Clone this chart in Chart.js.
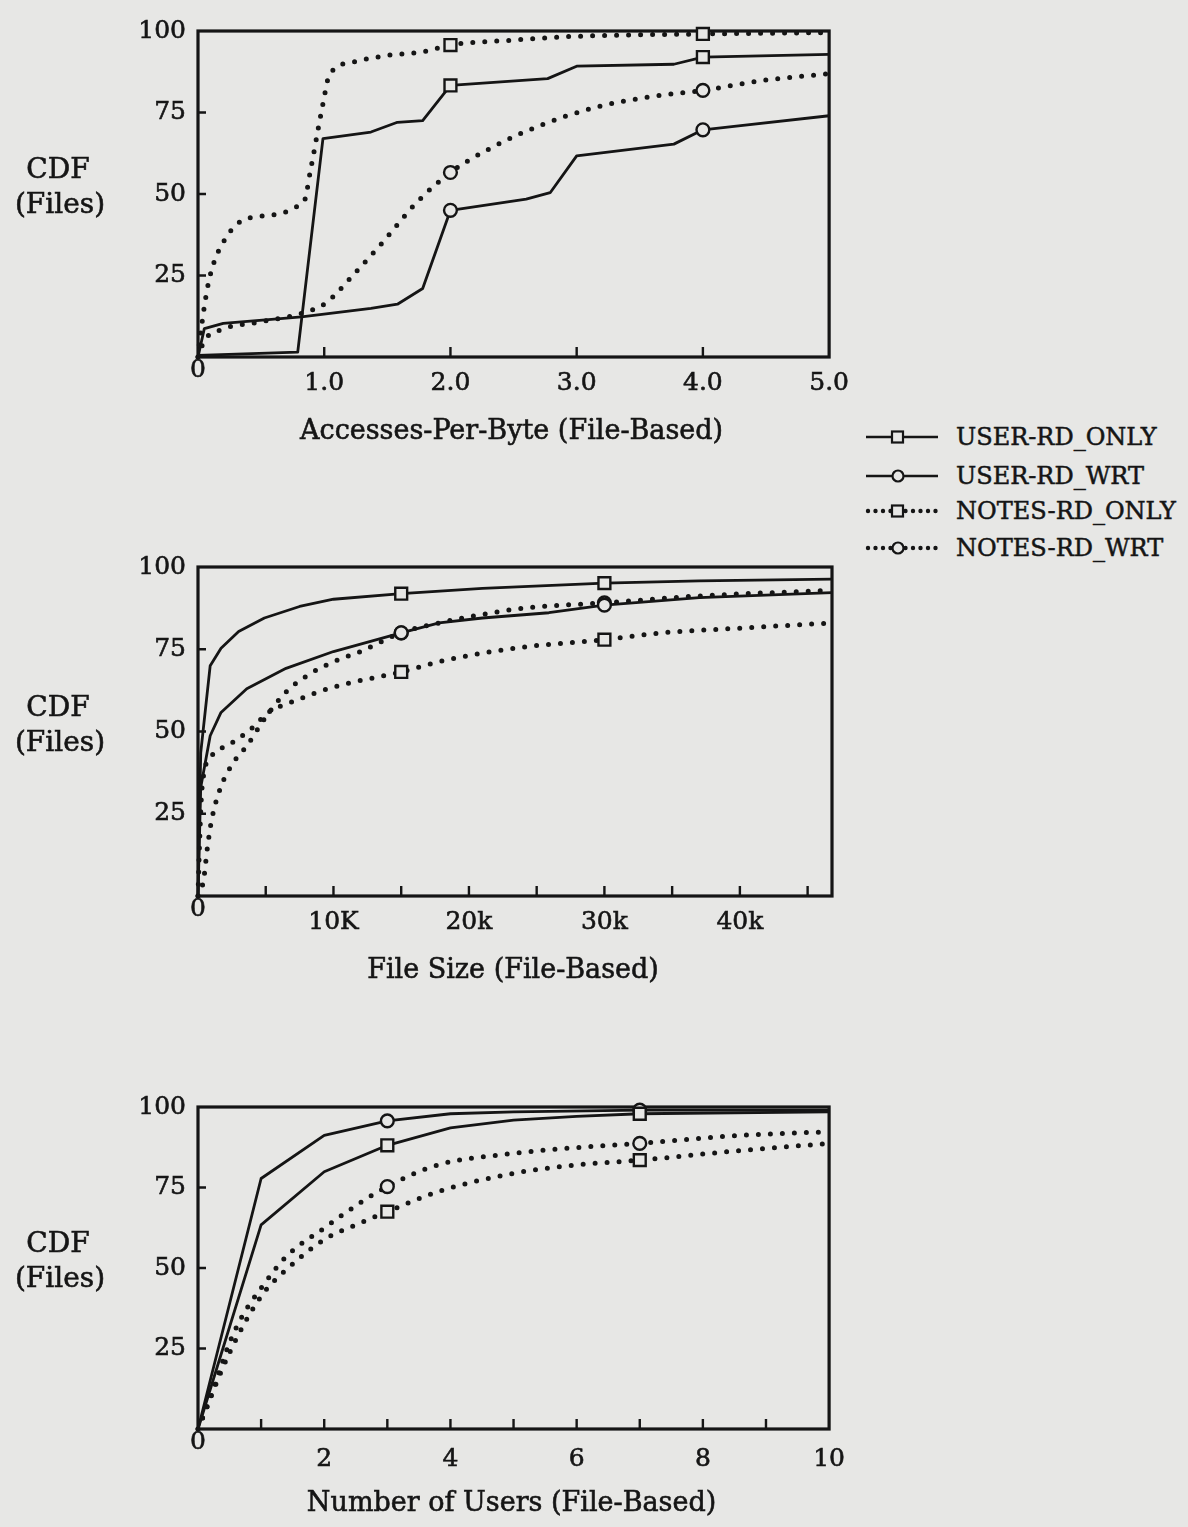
<!DOCTYPE html>
<html>
<head>
<meta charset="utf-8">
<script src="https://cdn.jsdelivr.net/npm/chart.js@4.4.0/dist/chart.umd.min.js"></script>
<style>
  html, body { margin: 0; padding: 0; background: #e7e7e5; }
  body { width: 1188px; height: 1527px; position: relative; overflow: hidden; font-family: "DejaVu Serif", serif; color: #151515; }
  canvas.c { position: absolute; left: 0; }
  #legend { position: absolute; left: 862px; top: 419px; width: 326px; height: 150px; }
  .row { position: absolute; left: 0; height: 36px; display: flex; align-items: center; white-space: nowrap; font-size: 24px; -webkit-text-stroke: 0.5px #151515; }
  .row svg { margin-right: 16px; }
</style>
</head>
<body>
<canvas id="c1" class="c" width="860" height="460" style="top:0px"></canvas>
<canvas id="c2" class="c" width="860" height="500" style="top:500px"></canvas>
<canvas id="c3" class="c" width="860" height="487" style="top:1040px"></canvas>
<div id="legend"></div>
<script>
// ---------------- DATA ----------------
const seriesNames = ['USER-RD_ONLY', 'USER-RD_WRT', 'NOTES-RD_ONLY', 'NOTES-RD_WRT'];

// Chart 1: Accesses-Per-Byte (File-Based)
const apbTickValues = [0, 1, 2, 3, 4, 5];
const apbTickLabels = ['0', '1.0', '2.0', '3.0', '4.0', '5.0'];
const apbMarkerX = [2.0, 4.0];
const apbUserRdOnlyX = [0, 0.79, 0.99, 1.37, 1.58, 1.78, 2.0, 2.77, 3.0, 3.77, 4.0, 5.0];
const apbUserRdOnlyY = [0.5, 1.5, 67, 69, 72, 72.5, 83.3, 85.4, 89.2, 89.8, 92, 92.8];
const apbUserRdWrtX = [0, 0.05, 0.2, 0.82, 1.37, 1.58, 1.78, 2.0, 2.6, 2.79, 3.0, 3.77, 4.0, 4.3, 5.0];
const apbUserRdWrtY = [0, 8.7, 10.3, 12.3, 14.9, 16.2, 21, 45, 48.4, 50.4, 61.7, 65.3, 69.7, 71, 74];
const apbNotesRdOnlyX = [0, 0.03, 0.09, 0.22, 0.41, 0.84, 0.89, 0.99, 1.04, 1.23, 1.5, 1.78, 2.0, 2.5, 2.95, 4.0, 5.0];
const apbNotesRdOnlyY = [0, 10, 24, 36.5, 42.7, 47.8, 57, 77.7, 86.4, 90.5, 92.5, 93.6, 95.7, 97.2, 98.3, 99.1, 99.5];
const apbNotesRdWrtX = [0, 0.05, 0.17, 0.5, 0.82, 1.01, 1.23, 1.47, 1.73, 2.0, 2.33, 2.71, 3.15, 3.56, 4.0, 4.49, 5.0];
const apbNotesRdWrtY = [0, 5, 8.2, 10.8, 13.4, 16.5, 25.2, 35.5, 47.3, 56.6, 64.3, 71, 76.6, 79.7, 81.8, 84.9, 86.9];

// Chart 2: File Size (File-Based), x in thousands of bytes
const fsTickValues = [0, 10, 20, 30, 40];
const fsTickLabels = ['0', '10K', '20k', '30k', '40k'];
const fsMarkerX = [15, 30];
const fsUserRdOnlyX = [0, 0.2, 0.9, 1.7, 3, 4.9, 7.5, 10, 15, 21, 30, 37, 46.8];
const fsUserRdOnlyY = [0, 43.5, 70, 75.3, 80.4, 84.5, 88, 90.2, 91.9, 93.5, 95.1, 95.8, 96.3];
const fsUserRdWrtX = [0, 0.2, 0.9, 1.7, 3.6, 6.5, 10, 15, 17.8, 21, 25.9, 30, 37, 46.8];
const fsUserRdWrtY = [0, 33, 48.7, 55.8, 63, 69.2, 74.3, 80, 83, 84.5, 86.1, 88.4, 90.7, 92.2];
const fsNotesRdOnlyX = [0, 0.13, 0.3, 1, 2.3, 3.9, 5.2, 7.2, 10, 15, 17.8, 21, 24.3, 30, 34, 40.4, 46.8];
const fsNotesRdOnlyY = [0, 18, 33, 42.5, 46, 50.7, 55.8, 59.4, 63.5, 68.1, 71.2, 73.8, 75.8, 77.9, 79.9, 81.5, 83];
const fsNotesRdWrtX = [0, 0.4, 0.7, 1, 1.7, 2.6, 3.6, 4.9, 6.5, 8.1, 10, 12, 15, 17.8, 21, 24.3, 30, 37, 46.8];
const fsNotesRdWrtY = [0, 4.6, 14.9, 23, 33.3, 40.5, 45.6, 53.8, 62, 67.1, 71.2, 74.3, 80, 83, 85.6, 87.6, 89.1, 91.2, 92.9];

// Chart 3: Number of Users (File-Based)
const nuTickValues = [0, 2, 4, 6, 8, 10];
const nuTickLabels = ['0', '2', '4', '6', '8', '10'];
const nuMarkerX = [3, 7];
const nuUserRdOnlyX = [0, 1, 2, 3, 4, 5, 6, 7, 10];
const nuUserRdOnlyY = [0, 63.4, 79.9, 88.1, 93.5, 95.9, 97.1, 97.9, 98.5];
const nuUserRdWrtX = [0, 1, 2, 3, 4, 5, 7, 10];
const nuUserRdWrtY = [0, 77.8, 91.2, 95.7, 97.9, 98.5, 99, 99];
const nuNotesRdOnlyX = [0, 0.5, 1, 1.4, 2, 2.56, 3, 3.8, 5, 6, 7, 8.5, 10];
const nuNotesRdOnlyY = [0, 23.7, 41.2, 49.5, 58.8, 63.9, 67.5, 73.7, 79.4, 82, 83.5, 86.3, 88.7];
const nuNotesRdWrtX = [0, 0.15, 0.5, 0.7, 1, 1.4, 2, 2.56, 3, 3.8, 5, 6, 7, 8.6, 10];
const nuNotesRdWrtY = [0, 7.2, 26.8, 35, 43.8, 53.6, 62.4, 70.1, 75.3, 82, 85.6, 87.4, 88.7, 91.2, 92.3];

const yTickValues = [0, 25, 50, 75, 100];

// ---------------- STYLE ----------------
const BG = '#e7e7e5';
const INK = '#151515';
const FONT = '"DejaVu Serif", serif';
const TICK_SIZE = 25;
const TITLE_SIZE = 27;
const YTITLE_SIZE = 28;
const TEXT_STROKE = 0.6;

function pts(xs, ys) { return xs.map((x, i) => ({ x: x, y: ys[i] })); }

function makeDataset(name, xs, ys, markerX) {
  const dotted = name.startsWith('NOTES');
  const square = name.endsWith('ONLY');
  return {
    label: name,
    data: pts(xs, ys),
    borderColor: INK,
    borderWidth: dotted ? 5 : 2.8,
    borderDash: dotted ? [0, 12] : [],
    borderCapStyle: dotted ? 'round' : 'butt',
    borderJoinStyle: 'round',
    cubicInterpolationMode: dotted ? 'monotone' : 'default',
    tension: 0,
    fill: false,
    clip: 10,
    pointStyle: square ? 'rect' : 'circle',
    pointRadius: (ctx) => {
      const r = ctx.raw;
      if (!r) return 0;
      return markerX.some(m => Math.abs(m - r.x) < 1e-9) ? (square ? 8.4 : 6.4) : 0;
    },
    pointHoverRadius: 0,
    pointBorderWidth: 2.4,
    pointBorderColor: INK,
    pointBackgroundColor: BG
  };
}

function strongText(ctx, text, x, y) {
  ctx.fillText(text, x, y);
  ctx.lineWidth = TEXT_STROKE;
  ctx.strokeStyle = INK;
  ctx.strokeText(text, x, y);
}

const framePlugin = {
  id: 'frame',
  beforeDatasetsDraw(chart, args, opts) {
    const { ctx, chartArea: a, scales } = chart;
    ctx.save();
    ctx.strokeStyle = INK;
    ctx.lineWidth = 3.2;
    ctx.strokeRect(a.left, a.top, a.right - a.left, a.bottom - a.top);
    ctx.lineWidth = 2.4;
    ctx.beginPath();
    opts.xTicks.forEach(v => {
      const px = scales.x.getPixelForValue(v);
      ctx.moveTo(px, a.bottom);
      ctx.lineTo(px, a.bottom - 10);
    });
    [25, 50, 75].forEach(v => {
      const py = scales.y.getPixelForValue(v);
      ctx.moveTo(a.left, py);
      ctx.lineTo(a.left + 8, py);
    });
    ctx.stroke();
    ctx.restore();
  },
  afterDraw(chart, args, opts) {
    const { ctx, chartArea: a, scales } = chart;
    ctx.save();
    ctx.fillStyle = INK;
    ctx.textAlign = 'center';
    ctx.textBaseline = 'middle';
    ctx.font = TICK_SIZE + 'px ' + FONT;
    strongText(ctx, opts.originLabel, scales.x.getPixelForValue(0), a.bottom + 13);
    ctx.font = TITLE_SIZE + 'px ' + FONT;
    strongText(ctx, opts.xTitle, (a.left + a.right) / 2 - 2, a.bottom + 75);
    const mid = (a.top + a.bottom) / 2;
    ctx.font = YTITLE_SIZE + 'px ' + FONT;
    strongText(ctx, opts.yTitle[0], 58, mid - 23);
    strongText(ctx, opts.yTitle[1], 60, mid + 12);
    ctx.restore();
  }
};

function makeChart(id, cfg) {
  const canvas = document.getElementById(id);
  const datasets = cfg.series.map((s, i) => makeDataset(seriesNames[i], s[0], s[1], cfg.markerX));
  return new Chart(canvas, {
    type: 'line',
    data: { datasets: datasets },
    plugins: [framePlugin],
    options: {
      responsive: false,
      animation: false,
      devicePixelRatio: 1,
      events: [],
      layout: { padding: { top: cfg.padTop, right: cfg.padRight, left: 0, bottom: 0 } },
      plugins: {
        legend: { display: false },
        tooltip: { enabled: false },
        frame: { xTicks: cfg.innerTicks, originLabel: cfg.tickLabels[0], xTitle: cfg.xTitle, yTitle: ['CDF', '(Files)'] }
      },
      scales: {
        x: {
          type: 'linear', min: 0, max: cfg.xMax,
          border: { display: false },
          grid: { display: false, drawTicks: false },
          afterBuildTicks: (scale) => { scale.ticks = cfg.tickValues.map(v => ({ value: v })); },
          afterFit: (scale) => { scale.height = cfg.xAxisH; },
          ticks: {
            autoSkip: false, maxRotation: 0, padding: cfg.tickPad, color: INK,
            textStrokeColor: INK, textStrokeWidth: TEXT_STROKE,
            font: { family: FONT, size: TICK_SIZE },
            callback: (v, i) => (i === 0 ? '' : cfg.tickLabels[i])
          }
        },
        y: {
          type: 'linear', min: 0, max: 100,
          border: { display: false },
          grid: { display: false, drawTicks: false },
          afterBuildTicks: (scale) => { scale.ticks = yTickValues.map(v => ({ value: v })); },
          afterFit: (scale) => { scale.width = 198; },
          ticks: {
            autoSkip: false, padding: 12, color: INK,
            textStrokeColor: INK, textStrokeWidth: TEXT_STROKE,
            font: { family: FONT, size: TICK_SIZE },
            callback: (v) => (v === 0 ? '' : String(v))
          }
        }
      }
    }
  });
}

makeChart('c1', {
  series: [[apbUserRdOnlyX, apbUserRdOnlyY], [apbUserRdWrtX, apbUserRdWrtY], [apbNotesRdOnlyX, apbNotesRdOnlyY], [apbNotesRdWrtX, apbNotesRdWrtY]],
  markerX: apbMarkerX, xMax: 5, tickValues: apbTickValues, tickLabels: apbTickLabels,
  innerTicks: [1, 2, 3, 4], xTitle: 'Accesses-Per-Byte (File-Based)',
  padTop: 31, padRight: 30, xAxisH: 103, tickPad: 11
});
makeChart('c2', {
  series: [[fsUserRdOnlyX, fsUserRdOnlyY], [fsUserRdWrtX, fsUserRdWrtY], [fsNotesRdOnlyX, fsNotesRdOnlyY], [fsNotesRdWrtX, fsNotesRdWrtY]],
  markerX: fsMarkerX, xMax: 46.8, tickValues: fsTickValues, tickLabels: fsTickLabels,
  innerTicks: [5, 10, 15, 20, 25, 30, 35, 40, 45], xTitle: 'File Size (File-Based)',
  padTop: 67, padRight: 28, xAxisH: 104, tickPad: 11
});
makeChart('c3', {
  series: [[nuUserRdOnlyX, nuUserRdOnlyY], [nuUserRdWrtX, nuUserRdWrtY], [nuNotesRdOnlyX, nuNotesRdOnlyY], [nuNotesRdWrtX, nuNotesRdWrtY]],
  markerX: nuMarkerX, xMax: 10, tickValues: nuTickValues, tickLabels: nuTickLabels,
  innerTicks: [1, 2, 3, 4, 5, 6, 7, 8, 9], xTitle: 'Number of Users (File-Based)',
  padTop: 67, padRight: 28, xAxisH: 98, tickPad: 15
});

// ---------------- LEGEND ----------------
(function buildLegend() {
  const legend = document.getElementById('legend');
  const rowTops = [0, 39, 74, 111];
  seriesNames.forEach((name, i) => {
    const dotted = name.startsWith('NOTES');
    const square = name.endsWith('ONLY');
    const row = document.createElement('div');
    row.className = 'row';
    row.style.top = rowTops[i] + 'px';
    const line = dotted
      ? '<line x1="6" y1="18" x2="76" y2="18" stroke="' + INK + '" stroke-width="4.4" stroke-linecap="round" stroke-dasharray="0 7.5"/>'
      : '<line x1="4" y1="18" x2="76" y2="18" stroke="' + INK + '" stroke-width="2.6"/>';
    const marker = square
      ? '<rect x="30" y="12.5" width="11" height="11" fill="' + BG + '" stroke="' + INK + '" stroke-width="2.2"/>'
      : '<circle cx="36" cy="18" r="5.5" fill="' + BG + '" stroke="' + INK + '" stroke-width="2.2"/>';
    row.innerHTML = '<svg width="78" height="36">' + line + marker + '</svg><span>' + name + '</span>';
    legend.appendChild(row);
  });
})();
</script>
</body>
</html>
